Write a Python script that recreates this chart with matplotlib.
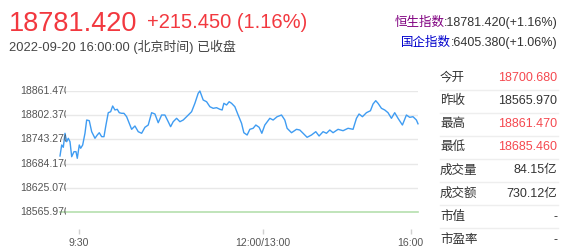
import matplotlib.pyplot as plt
from matplotlib.transforms import Bbox, TransformedBbox

plt.rcParams['font.family'] = ['Liberation Sans', 'Noto Sans CJK SC', 'DejaVu Sans']

# ---- data ----
prev_close = 18565.970
last = 18781.420
change = 215.450
change_pct = 1.16
y_levels = [18861.470, 18802.370, 18743.270, 18684.170, 18625.070, 18565.970]

# horizontal position of each sample on the session axis (0 = first print)
slot = [0, 1.7, 3.3, 5, 6.7, 8.3, 10, 11.7, 14, 16,
        17.3, 19.3, 20.7, 22.7, 25, 26.7, 29.3, 31.7, 35, 37.3,
        39.3, 41.7, 44, 46, 48.3, 50.7, 52.7, 55, 57.3, 59.3,
        61.7, 64, 66.7, 69.3, 71.7, 75, 78.3, 81.7, 85, 88.3,
        91.7, 95, 98.3, 101.7, 105, 108.3, 110.7, 113.3, 116.7, 120,
        123.3, 126.7, 131.7, 135, 138.3, 140,
        143.3, 146.7, 150, 153.3, 156.7, 160, 162.3, 164, 166.7, 169.3,
        171.7, 175, 178.3, 181.7, 184, 187.3, 190, 193.3, 196, 199.3,
        202, 205, 210, 213.3, 217.3, 221.7, 225, 227.3, 231.7, 236.7,
        240, 243.3, 247.3, 251.7, 256, 259.3, 263.3, 266.7, 270, 273.3,
        278.3, 283.3, 288.3, 293.3, 296.7, 299.3, 302.7, 306.7, 310.7, 313.3,
        316, 318.3, 321.7, 325, 328.3, 331.7, 335, 338.3, 342.7, 346.7,
        350, 353.3, 356.7, 358.3]
price = [18702.8, 18729.6, 18724.0, 18758.2, 18737.7, 18746.0, 18737.7, 18701.0, 18713.3, 18713.3,
         18697.1, 18729.6, 18721.6, 18729.6, 18758.2, 18790.6, 18789.0, 18762.1, 18746.0, 18754.0,
         18759.6, 18749.9, 18749.9, 18778.4, 18808.5, 18810.9, 18824.8, 18815.1, 18816.8, 18808.5,
         18807.0, 18807.0, 18798.7, 18782.6, 18767.9, 18776.0, 18762.1, 18758.2, 18772.8, 18778.4,
         18808.5, 18805.3, 18784.0, 18802.8, 18802.8, 18786.5, 18774.3, 18786.5, 18794.8, 18786.5,
         18790.6, 18798.7, 18810.9, 18831.4, 18855.8, 18861.5,
         18839.5, 18835.3, 18823.1, 18819.2, 18820.7, 18816.8, 18815.1, 18831.4, 18827.3, 18835.3,
         18831.4, 18823.1, 18802.8, 18782.6, 18759.6, 18754.0, 18767.9, 18770.4, 18778.4, 18772.8,
         18758.2, 18778.4, 18794.8, 18790.6, 18798.7, 18802.8, 18790.6, 18770.4, 18759.6, 18767.9,
         18766.2, 18758.2, 18748.4, 18754.0, 18762.1, 18751.6, 18762.1, 18758.2, 18766.2, 18759.6,
         18767.9, 18764.5, 18770.4, 18767.9, 18794.8, 18805.3, 18798.7, 18808.5, 18813.3, 18829.7,
         18837.8, 18831.4, 18819.2, 18815.1, 18808.5, 18794.8, 18808.5, 18794.8, 18778.4, 18802.8,
         18797.2, 18798.7, 18790.6, 18781.4]

x_ticks = [19, 203, 351]
x_labels = ['9:30', '12:00/13:00', '16:00']

index_names = ['恒生指数', '国企指数']
index_quotes = [':18781.420(+1.16%)', ':6405.380(+1.06%)']
index_colors = ['#800080', '#0000cc']

stat_names = ['今开', '昨收', '最高', '最低', '成交量', '成交额', '市值', '市盈率']
stat_values = ['18700.680', '18565.970', '18861.470', '18685.460', '84.15亿', '730.12亿', '-', '-']
stat_colors = ['#f5484f', '#333333', '#f5484f', '#f5484f', '#333333', '#333333', '#333333', '#333333']

W, H = 571, 250
fig = plt.figure(figsize=(W / 100, H / 100), dpi=100)

def fx(px):
    return px / W

def fy(py):
    return 1 - py / H

# ---- header ----
red = '#f2383f'
fig.text(fx(9), fy(31), f'{last:.3f}', fontsize=19.5, color=red, va='baseline')
fig.text(fx(147), fy(28), f'+{change:.3f} ({change_pct:.2f}%)', fontsize=14.5, color=red, va='baseline')
fig.text(fx(9), fy(51), '2022-09-20 16:00:00 (北京时间) 已收盘', fontsize=9.3, color='#444444', va='baseline')

quote_texts = []
for q, py in zip(index_quotes, [26, 46]):
    quote_texts.append(fig.text(fx(558), fy(py), q, fontsize=9, color='#333333', ha='right', va='baseline'))
fig.canvas.draw()
r = fig.canvas.get_renderer()
for t, name, col in zip(quote_texts, index_names, index_colors):
    bb = t.get_window_extent(r)
    fig.text(bb.x0 / W, t.get_position()[1], name, fontsize=9, color=col, ha='right', va='baseline')

# ---- chart ----
ax = fig.add_axes([fx(60), fy(212), fx(358), 121 / H])
ax.set_xlim(0, 358.3)
ax.set_ylim(y_levels[-1], y_levels[0])
for lv in y_levels[:-1]:
    ax.axhline(lv, xmin=2 / 358, color='#e8e8e8', lw=1, zorder=1)
ax.axhline(prev_close, color='#b5dfae', lw=1.2, zorder=1, clip_on=False)
ax.plot(slot, price, color='#3f9cf2', lw=1.0, zorder=3, clip_on=False)

for s in ['top', 'left', 'right']:
    ax.spines[s].set_visible(False)
ax.spines['bottom'].set_position(('outward', 12))
ax.spines['bottom'].set_visible(False)
ax.set_yticks([])
ax.set_xticks(x_ticks)
ax.set_xticklabels(x_labels)
ax.tick_params(axis='x', length=3.5, width=1, color='#d0d0d0', labelcolor='#555555',
               labelsize=7.6, pad=3)

# y labels are cut off where the plot starts, as in the source
clip = TransformedBbox(Bbox([[0, 0], [fx(66), 1]]), fig.transFigure)
for lv in y_levels:
    py = 212 - (lv - y_levels[-1]) / (y_levels[0] - y_levels[-1]) * 121
    t = fig.text(fx(20), fy(py), f'{lv:.3f}', fontsize=7.6, color='#555555', va='center')
    t.set_clip_box(clip)
    t.set_clip_on(True)

# ---- stats table ----
row0, step = 78, 23.1
for i, (n, v, c) in enumerate(zip(stat_names, stat_values, stat_colors)):
    yy = row0 + i * step
    fig.text(fx(440), fy(yy), n, fontsize=9, color='#333333', va='center')
    fig.text(fx(557), fy(yy), v, fontsize=9, color=c, va='center', ha='right')
    if i < len(stat_names) - 1:
        fig.add_artist(plt.Line2D([fx(440), fx(558)], [fy(yy + 11.5)] * 2,
                                  color='#eeeeee', lw=1, transform=fig.transFigure))

fig.savefig('out.png', dpi=100)
